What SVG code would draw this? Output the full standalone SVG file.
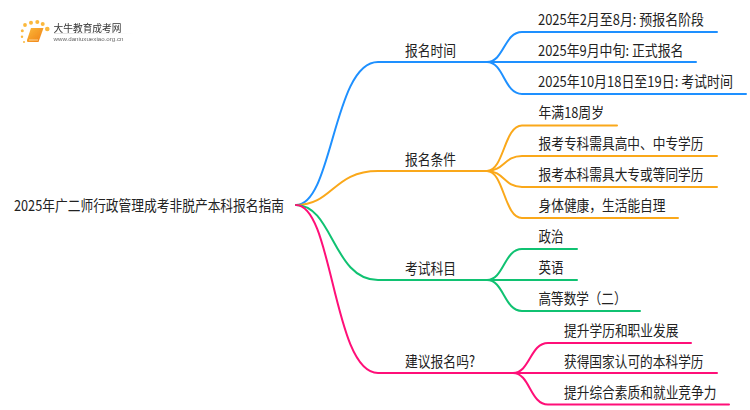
<svg xmlns="http://www.w3.org/2000/svg" width="750" height="410" viewBox="0 0 750 410">
<defs><filter id="b" x="-10%" y="-30%" width="120%" height="160%"><feGaussianBlur stdDeviation="0.45"/></filter>
<linearGradient id="bk" x1="0" y1="0" x2="1" y2="1"><stop offset="0" stop-color="#fcb93a"/><stop offset="1" stop-color="#ef7f14"/></linearGradient>
<linearGradient id="ln" x1="0" y1="0" x2="1" y2="0"><stop offset="0" stop-color="#ccc"/><stop offset="1" stop-color="#fff"/></linearGradient></defs>
<style>
text{font-family:"Noto Sans CJK SC","Noto Sans",sans-serif;font-size:15px;fill:#222}
.c{fill:none;stroke-width:2;stroke-linecap:round}
.bl{stroke:#1e90ff}.or{stroke:#faa81a}.gr{stroke:#10c272}.pk{stroke:#ff0f78}
.d{fill:#fbb83c}
</style>
<rect width="750" height="410" fill="#fff"/>
<g id="connectors">
<path class="c bl" d="M296 205C333 205 333 62 378 62H487"/>
<path class="c or" d="M296 205C333 205 333 171 378 171H487"/>
<path class="c gr" d="M296 205C333 205 333 280 378 280H487"/>
<path class="c pk" d="M296 205C333 205 333 373 378 373H513"/>
<path class="c bl" d="M487 62C504 62 504 32 522 32H717"/>
<path class="c bl" d="M487 62H696"/>
<path class="c bl" d="M487 62C504 62 504 94 522 94H746"/>
<path class="c or" d="M487 171C504 171 504 125.500 522 125.500H617"/>
<path class="c or" d="M487 171C504 171 504 156 522 156H717"/>
<path class="c or" d="M487 171C504 171 504 187 522 187H717"/>
<path class="c or" d="M487 171C504 171 504 218 522 218H678"/>
<path class="c gr" d="M487 280C504 280 504 249 522 249H577"/>
<path class="c gr" d="M487 280H577"/>
<path class="c gr" d="M487 280C504 280 504 311 522 311H640"/>
<path class="c pk" d="M513 373C530 373 530 343 548 343H691"/>
<path class="c pk" d="M513 373H717"/>
<path class="c pk" d="M513 373C530 373 530 404.500 548 404.500H729"/>
</g>
<g id="logo">
<g filter="url(#b)">
<circle class="d" cx="22.300" cy="30.700" r="1.500"/><circle class="d" cx="25" cy="25" r="1.900"/><circle class="d" cx="31" cy="22.700" r="2"/><circle class="d" cx="37.300" cy="22" r="2"/><circle class="d" cx="42.700" cy="24" r="2"/><circle class="d" cx="47.300" cy="29" r="2.300"/><circle class="d" cx="22" cy="36.700" r="1.200"/><circle class="d" cx="24" cy="42" r="1"/>
<path d="M31 28H43.500L38.500 42H28Q26.500 42 27 40Z" fill="url(#bk)"/><path d="M29 40H38" stroke="#ffe3b0" stroke-width="0.800"/>
<rect x="54" y="33" width="80" height="1" fill="url(#ln)" opacity=".6"/>
<text x="53.500" y="31.500" textLength="68" lengthAdjust="spacingAndGlyphs" style="font-size:10px;fill:#333">大牛教育成考网</text>
<text x="53.500" y="41" textLength="70" lengthAdjust="spacingAndGlyphs" style="font-size:5.800px;fill:#666;font-family:'Liberation Sans',sans-serif">www.daniuxuexiao.org.cn</text>
</g>
</g>
<g id="root"><text x="14" y="211" textLength="270" lengthAdjust="spacingAndGlyphs">2025年广二师行政管理成考非脱产本科报名指南</text></g>
<g id="n1"><text x="405" y="56" textLength="51" lengthAdjust="spacingAndGlyphs">报名时间</text></g>
<g id="n2"><text x="405" y="165" textLength="51" lengthAdjust="spacingAndGlyphs">报名条件</text></g>
<g id="n3"><text x="405" y="274" textLength="51" lengthAdjust="spacingAndGlyphs">考试科目</text></g>
<g id="n4"><text x="405" y="367" textLength="70" lengthAdjust="spacingAndGlyphs">建议报名吗?</text></g>
<g id="n1a"><text x="538" y="25" textLength="166" lengthAdjust="spacingAndGlyphs">2025年2月至8月: 预报名阶段</text></g>
<g id="n1b"><text x="538" y="56" textLength="145.500" lengthAdjust="spacingAndGlyphs">2025年9月中旬: 正式报名</text></g>
<g id="n1c"><text transform="translate(538 87) scale(.86 1)" textLength="226.700" lengthAdjust="spacingAndGlyphs">2025年10月18日至19日: 考试时间</text></g>
<g id="n2a"><text x="538.500" y="118" textLength="65.500" lengthAdjust="spacingAndGlyphs">年满18周岁</text></g>
<g id="n2b"><text x="538.500" y="149" textLength="165" lengthAdjust="spacingAndGlyphs">报考专科需具高中、中专学历</text></g>
<g id="n2c"><text x="538.500" y="180" textLength="165" lengthAdjust="spacingAndGlyphs">报考本科需具大专或等同学历</text></g>
<g id="n2d"><text x="538.500" y="211" textLength="127" lengthAdjust="spacingAndGlyphs">身体健康，生活能自理</text></g>
<g id="n3a"><text x="538.500" y="242" textLength="25" lengthAdjust="spacingAndGlyphs">政治</text></g>
<g id="n3b"><text x="538.500" y="273" textLength="25" lengthAdjust="spacingAndGlyphs">英语</text></g>
<g id="n3c"><text x="538.500" y="304" textLength="88" lengthAdjust="spacingAndGlyphs">高等数学（二）</text></g>
<g id="n4a"><text x="564" y="336" textLength="114.500" lengthAdjust="spacingAndGlyphs">提升学历和职业发展</text></g>
<g id="n4b"><text x="564" y="367" textLength="139.500" lengthAdjust="spacingAndGlyphs">获得国家认可的本科学历</text></g>
<g id="n4c"><text x="564" y="398" textLength="152.500" lengthAdjust="spacingAndGlyphs">提升综合素质和就业竞争力</text></g>
</svg>
